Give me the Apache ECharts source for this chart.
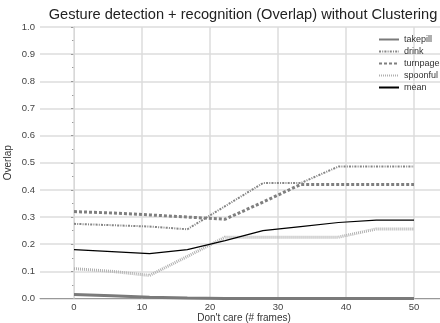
<!DOCTYPE html>
<html><head><meta charset="utf-8">
<script src="https://cdn.jsdelivr.net/npm/echarts@6/dist/echarts.min.js"></script>
<style>html,body{margin:0;padding:0;background:#fff}#c{width:440px;height:323px}</style>
</head><body><div id="c"></div>
<script>
const frames = [0, 5.56, 11.11, 16.67, 22.22, 27.78, 33.33, 38.89, 44.44, 50];
const takepill = [0.015, 0.010, 0.005, 0.002, 0.0, 0.0, 0.0, 0.0, 0.0, 0.0];
const drink    = [0.275, 0.270, 0.265, 0.255, 0.340, 0.425, 0.425, 0.486, 0.486, 0.486];
const turnpage = [0.320, 0.315, 0.308, 0.300, 0.292, 0.355, 0.420, 0.420, 0.420, 0.420];
const spoonful = [0.110, 0.100, 0.085, 0.155, 0.226, 0.226, 0.226, 0.226, 0.256, 0.256];
const mean     = [0.180, 0.173, 0.165, 0.180, 0.213, 0.250, 0.265, 0.280, 0.289, 0.289];
const xTicks = [0, 10, 20, 30, 40, 50];
const title = 'Gesture detection + recognition (Overlap) without Clustering';

const font = 'Liberation Sans, Arial, sans-serif';
// fit title to the reference width
const ctx = document.createElement('canvas').getContext('2d');
ctx.font = '17px ' + font;
const w17 = ctx.measureText(title).width;
const titleSize = Math.min(17, 17 * 389 / w17);
ctx.font = titleSize + 'px ' + font;
const titleW = ctx.measureText(title).width;

const pair = arr => frames.map((x, i) => [x, arr[i]]);
const chart = echarts.init(document.getElementById('c'), null, {renderer: 'canvas'});
chart.setOption({
  animation: false,
  textStyle: {fontFamily: font},
  title: {text: title, left: 243 - titleW / 2, top: 7, padding: 0,
    textStyle: {fontSize: titleSize, fontWeight: 'normal', color: '#222', fontFamily: font}},
  grid: {left: 40, right: -8, top: 27, bottom: 24.5, containLabel: false, outerBoundsMode: 'none'},
  legend: {orient: 'vertical', left: 378, top: 35, padding: 0, itemWidth: 20, itemHeight: 10, itemGap: 3,
    itemStyle: {opacity: 0},
    textStyle: {fontSize: 9, color: '#333'},
    data: ['takepill', 'drink', 'turnpage', 'spoonful', 'mean']},
  xAxis: {type: 'value', min: -5, max: 55, interval: 5,
    name: "Don't care (# frames)", nameLocation: 'middle', nameGap: 14.5, nameMoveOverlap: false,
    nameTextStyle: {fontSize: 10, color: '#333', verticalAlign: 'top'},
    axisLine: {show: true, lineStyle: {color: '#999', width: 1}},
    axisTick: {show: false},
    axisLabel: {fontSize: 9.5, color: '#444', margin: 4,
      formatter: v => xTicks.indexOf(Math.round(v)) >= 0 && Math.abs(v - Math.round(v)) < 1e-6 ? String(Math.round(v)) : ''},
    splitLine: {show: false}},
  yAxis: {type: 'value', min: 0, max: 1, interval: 0.1,
    name: 'Overlap', nameLocation: 'middle', nameGap: 27, nameMoveOverlap: false,
    nameTextStyle: {fontSize: 10, color: '#333'},
    axisLine: {show: true, lineStyle: {color: '#ccc', width: 1}},
    axisTick: {show: true, inside: false, length: 3, lineStyle: {color: '#999'}},
    minorTick: {show: true, splitNumber: 2, length: 2, lineStyle: {color: '#999'}},
    axisLabel: {fontSize: 9.5, color: '#444', margin: 5, formatter: v => v.toFixed(1)},
    splitLine: {show: true, lineStyle: {color: '#ddd', width: 1.5}}},
  series: [
    {name: 'takepill', type: 'line', data: pair(takepill), symbol: 'none', z: 3,
      lineStyle: {color: '#7a7a7a', width: 3, type: 'solid'}, itemStyle: {color: '#7a7a7a'},
      markLine: {silent: true, symbol: 'none', label: {show: false}, z: 1,
        lineStyle: {color: '#ddd', width: 1.5, type: 'solid'},
        data: xTicks.map(v => ({xAxis: v}))}},
    {name: 'drink', type: 'line', data: pair(drink), symbol: 'none', z: 3,
      lineStyle: {color: '#858585', width: 2, type: [2, 1.2, 1, 1.2]}, itemStyle: {color: '#858585'}},
    {name: 'turnpage', type: 'line', data: pair(turnpage), symbol: 'none', z: 3,
      lineStyle: {color: '#7f7f7f', width: 3, type: [3, 2]}, itemStyle: {color: '#7f7f7f'}},
    {name: 'spoonful', type: 'line', data: pair(spoonful), symbol: 'none', z: 3,
      lineStyle: {color: '#b0b0b0', width: 3, type: [1, 1]}, itemStyle: {color: '#b0b0b0'}},
    {name: 'mean', type: 'line', data: pair(mean), symbol: 'none', z: 4,
      lineStyle: {color: '#000', width: 1.2, type: 'solid'}, itemStyle: {color: '#000'}}
  ]
});
</script></body></html>
